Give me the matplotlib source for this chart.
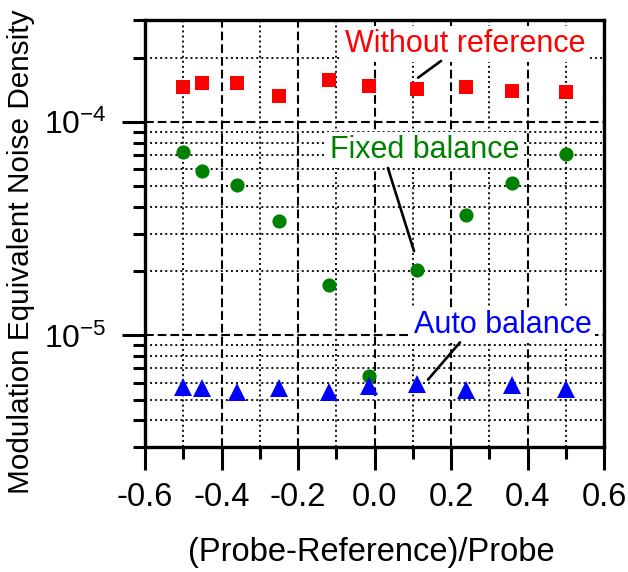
import matplotlib
matplotlib.use("Agg")
import matplotlib.pyplot as plt
from matplotlib.ticker import MultipleLocator, LogLocator, NullFormatter, FixedLocator, FixedFormatter

plt.rcParams['font.family'] = ['Liberation Sans', 'DejaVu Sans']
plt.rcParams['mathtext.fontset'] = 'custom'
plt.rcParams['mathtext.rm'] = 'Liberation Sans'
plt.rcParams['mathtext.it'] = 'Liberation Sans'
plt.rcParams['mathtext.default'] = 'regular'

# ---- data ----
ratio = [-0.5, -0.45, -0.36, -0.25, -0.12, -0.015, 0.11, 0.24, 0.36, 0.5]
without_reference = [1.46e-4, 1.52e-4, 1.52e-4, 1.32e-4, 1.57e-4, 1.48e-4, 1.43e-4, 1.46e-4, 1.40e-4, 1.38e-4]
fixed_balance = [7.2e-5, 5.9e-5, 5.05e-5, 3.45e-5, 1.72e-5, 6.45e-6, 2.02e-5, 3.65e-5, 5.15e-5, 7.05e-5]
auto_balance = [5.7e-6, 5.65e-6, 5.4e-6, 5.65e-6, 5.4e-6, 5.8e-6, 5.95e-6, 5.55e-6, 5.85e-6, 5.6e-6]

x_ticks = [-0.6, -0.4, -0.2, 0.0, 0.2, 0.4, 0.6]
x_tick_labels = ['-0.6', '-0.4', '-0.2', '0.0', '0.2', '0.4', '0.6']
y_ticks = [1e-5, 1e-4]
y_tick_labels = [r'$10^{-5}$', r'$10^{-4}$']

series_labels = ['Without reference', 'Fixed balance', 'Auto balance']
# annotation text anchors and leader lines (data coords)
label_pos = [(-0.077, 2.13e-4), (-0.116, 6.77e-5), (0.103, 1.022e-5)]
leader_from = [(0.174, 1.93e-4), (0.035, 6.08e-5), (0.2235, 9.27e-6)]
leader_to = [(0.114, 1.61e-4), (0.1033, 2.48e-5), (0.140, 6.21e-6)]

colors = ['#ff0000', '#008000', '#0000ff']

fig = plt.figure(figsize=(6.28, 5.72), dpi=100)
ax = fig.add_axes([145/628, 1-447/572, (604-145)/628, (447-20)/572])

ax.plot(ratio, without_reference, ls='none', marker='s', ms=9.8, color=colors[0], mew=0, zorder=3)
ax.plot(ratio, fixed_balance, ls='none', marker='o', ms=10.2, color=colors[1], mew=0, zorder=3)
ax.plot(ratio, auto_balance, ls='none', marker='^', ms=13.5, color=colors[2], mew=0, zorder=3)

ax.set_yscale('log')
ax.set_xlim(-0.6, 0.6)
ax.set_ylim(3e-6, 3e-4)

ax.xaxis.set_major_locator(FixedLocator(x_ticks))
ax.xaxis.set_major_formatter(FixedFormatter(x_tick_labels))
ax.xaxis.set_minor_locator(MultipleLocator(0.1))
ax.yaxis.set_major_locator(FixedLocator(y_ticks))
ax.yaxis.set_major_formatter(FixedFormatter(y_tick_labels))
ax.yaxis.set_minor_locator(LogLocator(base=10, subs=[2, 3, 4, 5, 6, 7, 8, 9], numticks=20))
ax.yaxis.set_minor_formatter(NullFormatter())

ax.tick_params(which='major', direction='out', length=16.5, width=2.2, labelsize=23.5, pad=9)
ax.tick_params(which='minor', direction='out', length=8.6, width=2.2)
ax.tick_params(axis='y', which='major', pad=11, labelsize=23)
for s in ax.spines.values():
    s.set_linewidth(2.4)

ax.set_axisbelow(True)
ax.grid(which='major', color='black', lw=1.5, linestyle=(0, (4.2, 1.9)))
ax.grid(which='minor', color='black', lw=1.3, linestyle=(0, (1.1, 1.7)))

for i in range(3):
    ax.text(label_pos[i][0], label_pos[i][1], series_labels[i], color=colors[i], fontsize=22,
            ha='left', va='baseline', zorder=4,
            bbox=dict(facecolor='white', edgecolor='none', pad=2))
    ax.annotate('', xy=leader_to[i], xytext=leader_from[i],
                arrowprops=dict(arrowstyle='-', color='black', lw=1.9, shrinkA=0, shrinkB=0),
                zorder=5)

fig.text(21/628, 1-251.5/572, 'Modulation Equivalent Noise Density', rotation=90,
         ha='center', va='center', fontsize=21.4)
fig.text(371/628, 1-553/572, '(Probe-Reference)/Probe', ha='center', va='center', fontsize=23.5)

fig.savefig('out.png', dpi=100)
